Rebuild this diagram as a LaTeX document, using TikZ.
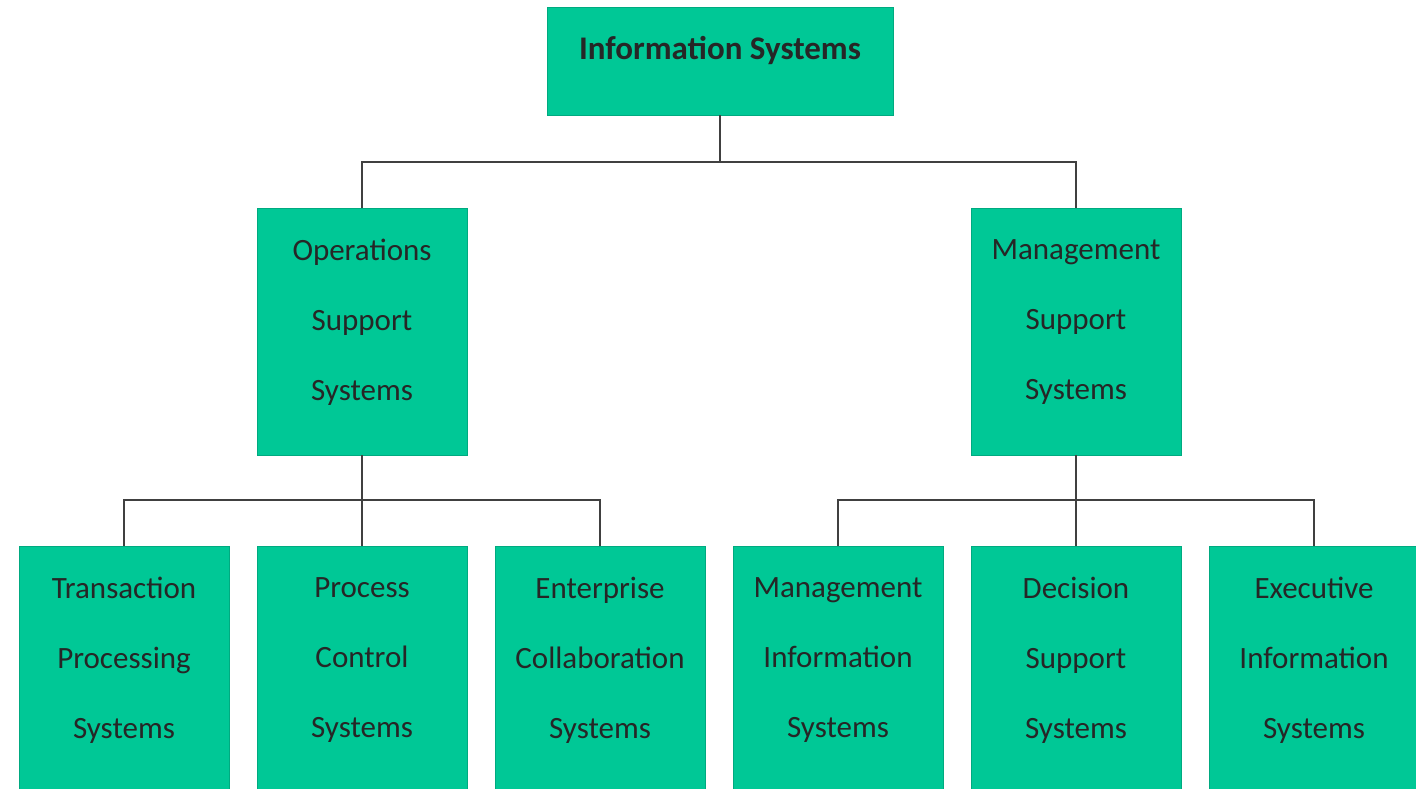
\documentclass[tikz,border=0pt]{standalone}
\usepackage{fontspec}
\setmainfont{Carlito}
\usetikzlibrary{positioning}
\definecolor{boxgreen}{RGB}{0,200,150}
\definecolor{linegray}{RGB}{64,64,64}
\tikzset{box/.style={fill=boxgreen, draw=boxgreen!85!black, line width=0.8pt, minimum width=210, minimum height=247, inner sep=0pt},
         lbl/.style={align=center, text=black!85, font=\fontsize{31}{70}\selectfont, inner sep=0pt},
         link/.style={draw=linegray, line width=2pt}}

\begin{document}
\begin{tikzpicture}[x=1pt,y=-1pt]
\useasboundingbox (0,0) rectangle (1416,789);
\clip (0,0) rectangle (1416,789);

% top
\node[box, minimum width=346, minimum height=108] (is) at (720,61) {};
\node[lbl, font=\fontsize{33}{36}\selectfont\bfseries] (istxt) at (720,50) {Information Systems};

% second level
\node[box] (ops) at (362,331.5) {};
\node[lbl] (opstxt) at (362,322) {Operations\\Support\\Systems};
\node[box] (mss) at (1076,331.5) {};
\node[lbl] (msstxt) at (1076,322) {Management\\Support\\Systems};

% third level
\node[box, minimum height=260] (tps) at (124,676) {};
\node[lbl] (tpstxt) at (124,660) {Transaction\\Processing\\Systems};
\node[box, minimum height=260] (pcs) at (362,676) {};
\node[lbl] (pcstxt) at (362,660) {Process\\Control\\Systems};
\node[box, minimum height=260] (ecs) at (600,676) {};
\node[lbl] (ecstxt) at (600,660) {Enterprise\\Collaboration\\Systems};
\node[box, minimum height=260] (mis) at (838,676) {};
\node[lbl] (mistxt) at (838,660) {Management\\Information\\Systems};
\node[box, minimum height=260] (dss) at (1076,676) {};
\node[lbl] (dsstxt) at (1076,660) {Decision\\Support\\Systems};
\node[box, minimum height=260] (eis) at (1314,676) {};
\node[lbl] (eistxt) at (1314,660) {Executive\\Information\\Systems};

% connectors
\draw[link] (is.south) -- ++(0,47) coordinate (j1) -| (ops.north);
\draw[link] (j1) -| (mss.north);

\draw[link] (ops.south) -- ++(0,45) coordinate (j2) -| (tps.north);
\draw[link] (j2) -- (pcs.north);
\draw[link] (j2) -| (ecs.north);

\draw[link] (mss.south) -- ++(0,45) coordinate (j3) -| (mis.north);
\draw[link] (j3) -- (dss.north);
\draw[link] (j3) -| (eis.north);
\end{tikzpicture}
\end{document}
